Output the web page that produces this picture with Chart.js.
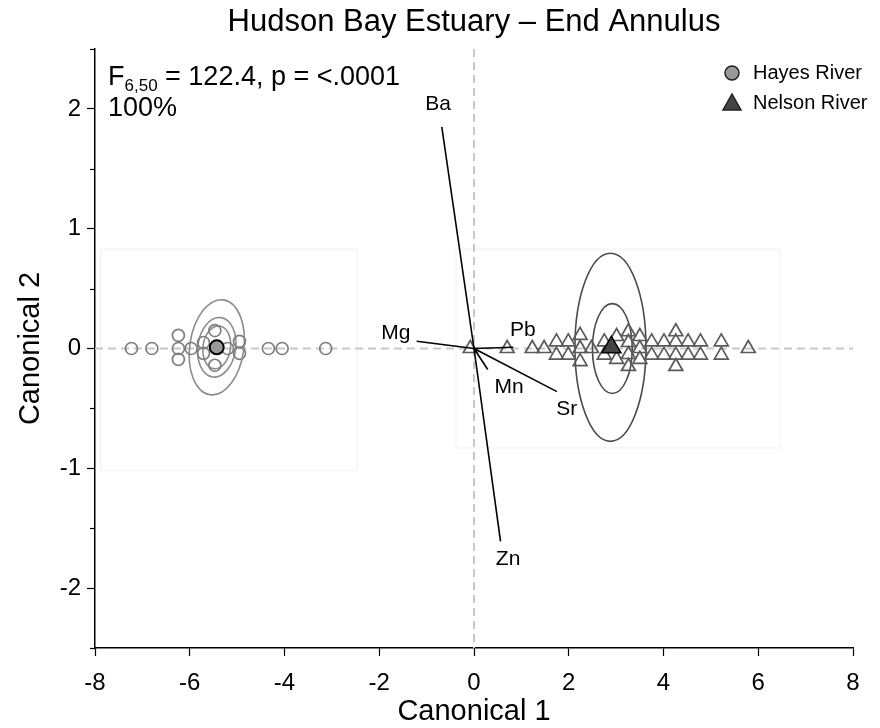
<!DOCTYPE html>
<html>
<head>
<meta charset="utf-8">
<script src="https://cdn.jsdelivr.net/npm/chart.js@4.4.1/dist/chart.umd.min.js"></script>
<style>
  html, body { margin: 0; padding: 0; background: #fff; }
  #wrap { width: 880px; height: 728px; }
</style>
</head>
<body>
<div id="wrap"><canvas id="chart" width="880" height="728"></canvas></div>
<script>
// --- DATA ---
const xTicks = [-8, -6, -4, -2, 0, 2, 4, 6, 8];
const yTicks = [-2, -1, 0, 1, 2];

const hayesX = [-7.23, -6.80, -6.24, -6.24, -6.24, -5.97, -5.71, -5.71, -5.47, -5.47, -5.20, -4.95, -4.95, -4.34, -4.05, -3.13];
const hayesY = [0, 0, 0.11, 0, -0.09, 0, 0.05, -0.04, 0.15, -0.14, 0, 0.06, -0.04, 0, 0, 0];

const nelsonX = [-0.08, 0.70, 1.23, 1.48, 1.74, 1.74, 1.99, 1.99, 2.24, 2.24, 2.24, 2.48, 2.75, 2.75, 3.01, 3.01,
                 3.26, 3.26, 3.26, 3.26, 3.50, 3.50, 3.50, 3.75, 3.75, 4.01, 4.01, 4.26, 4.26, 4.26, 4.26,
                 4.52, 4.52, 4.78, 4.78, 5.22, 5.22, 5.79];
const nelsonY = [0, 0, 0, 0, 0.055, -0.055, 0.055, -0.055, 0.11, 0, -0.11, 0, 0.055, -0.055, 0.10, -0.09,
                 0.14, 0.05, -0.05, -0.15, 0.10, 0, -0.09, 0.055, -0.055, 0.055, -0.055, 0.14, 0.055, -0.055, -0.15,
                 0.055, -0.055, 0.055, -0.055, 0.055, -0.055, 0];

const hayesMean = [-5.43, 0.01];
const nelsonMean = [2.90, 0.01];

// ellipses: centre x, centre y, half width (x units), half height (y units), tilt (deg)
const hayesEllipses = [
    [-5.43, 0.01, 0.57, 0.40, 8],
    [-5.43, 0.01, 0.40, 0.25, 8],
    [-5.43, 0.01, 0.29, 0.18, 8]
];
const nelsonEllipses = [
    [2.88, 0.01, 0.75, 0.785, 0],
    [2.92, 0.00, 0.42, 0.375, 0]
];

// biplot rays
const rayNames = ['Ba', 'Zn', 'Mg', 'Pb', 'Mn', 'Sr'];
const rayX = [-0.68, 0.56, -1.21, 0.83, 0.29, 1.75];
const rayY = [1.85, -1.61, 0.06, 0.01, -0.175, -0.36];
const rayLabelX = [-0.76, 0.72, -1.65, 1.03, 0.74, 1.96];
const rayLabelY = [2.04, -1.76, 0.13, 0.15, -0.32, -0.51];

// faint boxes around the groups: x1, x2, y1, y2
const groupBoxes = [
    [-7.88, -2.47, 0.83, -1.02],
    [-0.38, 6.46, 0.83, -0.83]
];

const FONT = '"Liberation Sans", Arial, Helvetica, sans-serif';

const toPts = (xs, ys) => xs.map((x, i) => ({ x: x, y: ys[i] }));

const rayDatasets = rayNames.map((n, i) => ({
    label: n,
    data: [{ x: 0, y: 0 }, { x: rayX[i], y: rayY[i] }],
    showLine: true,
    borderColor: '#000',
    borderWidth: 1.6,
    pointRadius: 0
}));

// --- PLUGIN: reference lines, boxes, ellipses, labels, legend ---
const decor = {
    id: 'decor',
    beforeDatasetsDraw(chart) {
        const { ctx, chartArea: a, scales: { x, y } } = chart;
        ctx.save();
        // group boxes
        ctx.strokeStyle = '#f1f1f1';
        ctx.lineWidth = 1;
        groupBoxes.forEach(b => {
            const x1 = x.getPixelForValue(b[0]), x2 = x.getPixelForValue(b[1]);
            const y1 = y.getPixelForValue(b[2]), y2 = y.getPixelForValue(b[3]);
            ctx.strokeRect(x1, y1, x2 - x1, y2 - y1);
        });
        // dashed zero lines
        ctx.strokeStyle = '#c8c8c8';
        ctx.lineWidth = 2;
        ctx.setLineDash([8, 5]);
        ctx.beginPath();
        ctx.moveTo(a.left, y.getPixelForValue(0));
        ctx.lineTo(a.right, y.getPixelForValue(0));
        ctx.moveTo(x.getPixelForValue(0), a.top);
        ctx.lineTo(x.getPixelForValue(0), a.bottom);
        ctx.stroke();
        ctx.setLineDash([]);
        // ellipses
        const drawEll = (list, color) => {
            ctx.strokeStyle = color;
            ctx.lineWidth = 1.6;
            list.forEach(e => {
                const cx = x.getPixelForValue(e[0]), cy = y.getPixelForValue(e[1]);
                const rx = Math.abs(x.getPixelForValue(e[0] + e[2]) - cx);
                const ry = Math.abs(y.getPixelForValue(e[1] + e[3]) - cy);
                ctx.beginPath();
                ctx.ellipse(cx, cy, rx, ry, e[4] * Math.PI / 180, 0, Math.PI * 2);
                ctx.stroke();
            });
        };
        drawEll(hayesEllipses, '#8e8e8e');
        drawEll(nelsonEllipses, '#4a4a4a');
        ctx.restore();
    },
    afterDraw(chart) {
        const { ctx, chartArea: a, scales: { x, y } } = chart;
        ctx.save();
        // minor y ticks
        ctx.strokeStyle = '#000';
        ctx.lineWidth = 1.2;
        for (let v = -2.5; v <= 2.5; v += 1) {
            const py = Math.round(y.getPixelForValue(v)) + 0.5;
            ctx.beginPath();
            ctx.moveTo(a.left - 5, py);
            ctx.lineTo(a.left, py);
            ctx.stroke();
        }
        // title
        ctx.fillStyle = '#000';
        ctx.textAlign = 'center';
        ctx.textBaseline = 'middle';
        ctx.font = '31px ' + FONT;
        ctx.fillText('Hudson Bay Estuary \u2013 End Annulus', (a.left + a.right) / 2, 22);
        // axis titles
        ctx.font = '29px ' + FONT;
        ctx.fillText('Canonical 1', (a.left + a.right) / 2, 712);
        ctx.save();
        ctx.translate(31, (a.top + a.bottom) / 2);
        ctx.rotate(-Math.PI / 2);
        ctx.fillText('Canonical 2', 0, 0);
        ctx.restore();
        // ray labels
        ctx.font = '21px ' + FONT;
        rayNames.forEach((n, i) => {
            ctx.fillText(n, x.getPixelForValue(rayLabelX[i]), y.getPixelForValue(rayLabelY[i]));
        });
        // stats text
        ctx.textAlign = 'left';
        ctx.textBaseline = 'alphabetic';
        ctx.font = '27px ' + FONT;
        let tx = 108;
        ctx.fillText('F', tx, 85);
        tx += ctx.measureText('F').width;
        ctx.font = '17px ' + FONT;
        ctx.fillText('6,50', tx, 91);
        tx += ctx.measureText('6,50').width;
        ctx.font = '27px ' + FONT;
        ctx.fillText(' = 122.4, p = <.0001', tx, 85);
        ctx.fillText('100%', 108, 116);
        // legend
        ctx.font = '20px ' + FONT;
        ctx.textBaseline = 'middle';
        ctx.beginPath();
        ctx.arc(732, 73, 7, 0, Math.PI * 2);
        ctx.fillStyle = '#999';
        ctx.fill();
        ctx.strokeStyle = '#222';
        ctx.lineWidth = 1.5;
        ctx.stroke();
        ctx.beginPath();
        ctx.moveTo(732, 94);
        ctx.lineTo(741, 110);
        ctx.lineTo(723, 110);
        ctx.closePath();
        ctx.fillStyle = '#444';
        ctx.fill();
        ctx.stroke();
        ctx.fillStyle = '#000';
        ctx.fillText('Hayes River', 753, 73);
        ctx.fillText('Nelson River', 753, 103);
        ctx.restore();
    }
};

new Chart(document.getElementById('chart'), {
    type: 'scatter',
    data: {
        datasets: [
            {
                label: 'Nelson River mean',
                data: [{ x: nelsonMean[0], y: nelsonMean[1] }],
                pointStyle: 'triangle',
                pointRadius: 11,
                backgroundColor: '#444',
                borderColor: '#000',
                borderWidth: 1.5
            },
            {
                label: 'Hayes River mean',
                data: [{ x: hayesMean[0], y: hayesMean[1] }],
                pointStyle: 'circle',
                pointRadius: 7,
                backgroundColor: '#999',
                borderColor: '#000',
                borderWidth: 2
            },
            ...rayDatasets,
            {
                label: 'Nelson River',
                data: toPts(nelsonX, nelsonY),
                pointStyle: 'triangle',
                pointRadius: 8,
                backgroundColor: 'rgba(0,0,0,0)',
                borderColor: '#5a5a5a',
                borderWidth: 1.7
            },
            {
                label: 'Hayes River',
                data: toPts(hayesX, hayesY),
                pointStyle: 'circle',
                pointRadius: 6,
                backgroundColor: 'rgba(0,0,0,0)',
                borderColor: '#7e7e7e',
                borderWidth: 1.7
            }
        ]
    },
    options: {
        responsive: false,
        animation: false,
        layout: { padding: { top: 49, right: 27, left: 0, bottom: 0 } },
        plugins: {
            legend: { display: false },
            tooltip: { enabled: false }
        },
        scales: {
            x: {
                type: 'linear',
                min: -8,
                max: 8,
                afterFit: s => { s.height = 80; },
                afterBuildTicks: s => { s.ticks = xTicks.map(v => ({ value: v })); },
                ticks: { color: '#000', font: { family: FONT, size: 24 }, padding: 13, maxRotation: 0 },
                grid: { drawOnChartArea: false, drawTicks: true, tickLength: 8, tickColor: '#000', tickWidth: 1.2 },
                border: { display: true, color: '#000', width: 1.5 }
            },
            y: {
                type: 'linear',
                min: -2.5,
                max: 2.5,
                afterFit: s => { s.width = 95; },
                afterBuildTicks: s => { s.ticks = yTicks.map(v => ({ value: v })); },
                ticks: { color: '#000', font: { family: FONT, size: 24 }, padding: 6 },
                grid: { drawOnChartArea: false, drawTicks: true, tickLength: 8, tickColor: '#000', tickWidth: 1.2 },
                border: { display: true, color: '#000', width: 1.5 }
            }
        }
    },
    plugins: [decor]
});
</script>
</body>
</html>
